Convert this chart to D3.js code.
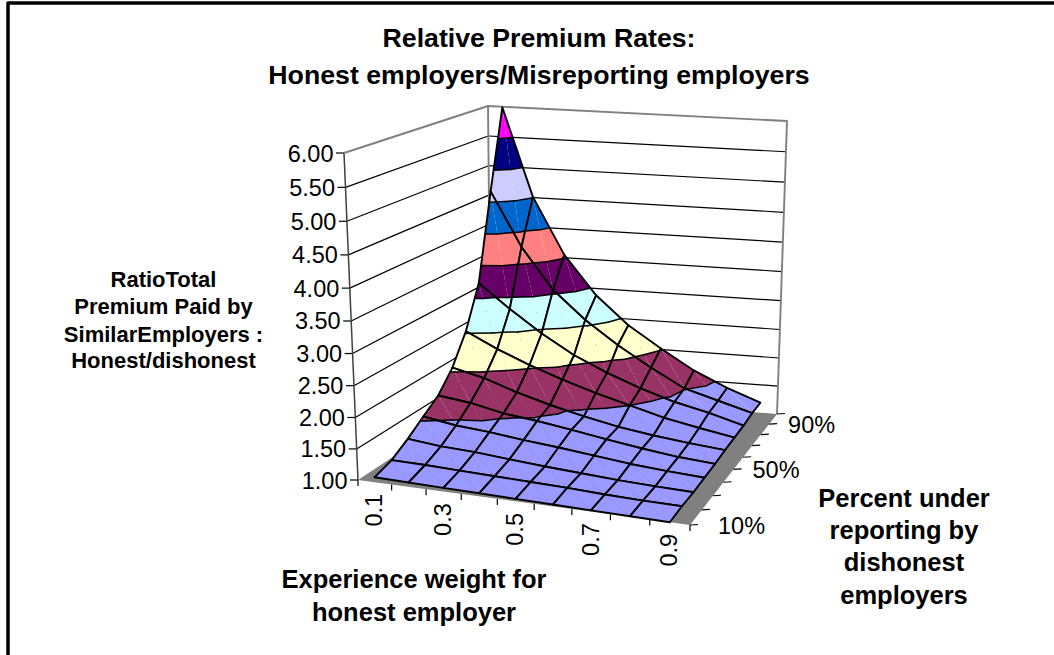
<!DOCTYPE html>
<html><head><meta charset="utf-8"><style>html,body{margin:0;background:#fff}svg{display:block}text{font-family:"Liberation Sans",Arial,sans-serif;fill:#000}.b{font-weight:700}</style></head>
<body><svg id="c" width="1054" height="655"></svg>
<script src="https://cdn.jsdelivr.net/npm/d3@7"></script>
<script>
// ---- data ----
const weights=["0.1","0.2","0.3","0.4","0.5","0.6","0.7","0.8","0.9"];
const percents=["10%","20%","30%","40%","50%","60%","70%","80%","90%","100%"];
const valueTicks=[1,1.5,2,2.5,3,3.5,4,4.5,5,5.5,6];
const weightLabels=["0.1","0.3","0.5","0.7","0.9"];
const percentLabels=["10%","50%","90%"];
const bandColors=["#9999FF","#993366","#FFFFCC","#CCFFFF","#660066","#FF8080","#0066CC","#CCCCFF","#000080","#FF00FF"];
const z10 =[1.08,1.07,1.06,1.05,1.04,1.03,1.02,1.01,1.00];
const z20 =[1.17,1.16,1.14,1.12,1.10,1.08,1.05,1.03,1.02];
const z30 =[1.34,1.28,1.25,1.20,1.15,1.11,1.07,1.04,1.02];
const z40 =[1.54,1.45,1.40,1.33,1.27,1.20,1.13,1.08,1.04];
const z50 =[1.73,1.66,1.54,1.47,1.38,1.28,1.19,1.11,1.06];
const z60 =[2.05,1.92,1.73,1.57,1.43,1.31,1.22,1.15,1.09];
const z70 =[2.53,2.27,2.04,1.84,1.66,1.50,1.34,1.22,1.11];
const z80 =[3.22,2.82,2.44,2.11,1.85,1.63,1.44,1.30,1.13];
const z90 =[4.67,3.76,3.06,2.58,2.18,1.83,1.51,1.34,1.17];
const z100=[5.99,4.51,3.55,2.88,2.39,2.02,1.67,1.40,1.18];
const rows=[z10,z20,z30,z40,z50,z60,z70,z80,z90,z100];

// ---- scales ----
const uS=d3.scaleBand().domain(weights).range([0,1]);
const vS=d3.scalePoint().domain(percents).range([0,1]);
const wS=d3.scaleLinear().domain([1,6]).range([0,1]);

// ---- camera: floor and top planes calibrated from the box corners ----
function solve(A,b){const n=b.length;A=A.map((r,i)=>[...r,b[i]]);for(let c=0;c<n;c++){let p=c;for(let r=c+1;r<n;r++)if(Math.abs(A[r][c])>Math.abs(A[p][c]))p=r;[A[c],A[p]]=[A[p],A[c]];for(let r=0;r<n;r++){if(r==c)continue;const f=A[r][c]/A[c][c];for(let k=c;k<=n;k++)A[r][k]-=f*A[c][k];}}return A.map((r,i)=>r[n]/r[i]);}
function homog(pts){const M=[],B=[];pts.forEach(([u,v,x,y])=>{M.push([u,v,1,0,0,0,-u*x,-v*x]);B.push(x);M.push([0,0,0,u,v,1,-u*y,-v*y]);B.push(y);});const h=solve(M,B);return (u,v)=>{const d=h[6]*u+h[7]*v+1;return[(h[0]*u+h[1]*v+h[2])/d,(h[3]*u+h[4]*v+h[5])/d];};}
const H0=homog([[0,0,358,480],[1,0,690,525],[1,1,777,414],[0,1,491,392]]);
const H1=homog([[0,0,344,153],[1,0,696,190],[1,1,787,121],[0,1,488,106]]);
const warpU=u=>u+0.08*u*(1-u);
const warpW=w=>w-0.055*w*(1-w);
function proj(u,v,w){const a=H0(warpU(u),v),b=H1(warpU(u),v),g=warpW(w);return[a[0]+(b[0]-a[0])*g,a[1]+(b[1]-a[1])*g];}
const pz=(u,v,z)=>proj(u,v,wS(z));

const svg=d3.select("#c");
const line=d3.line();
const seg=(g,pts,col,w,extra)=>g.append("path").attr("d",line(pts)).attr("fill","none").attr("stroke",col).attr("stroke-width",w).attr("stroke-linecap",extra||"butt").attr("stroke-linejoin","round");

// outer frame
seg(svg,[[8,655],[8,3],[1054,3]],"#000",3.5,"square");

// ---- walls and floor ----
const walls=svg.append("g");
walls.append("path").attr("d",line([proj(0,0,0),proj(1,0,0),proj(1,1,0),proj(0,1,0)])+"Z").attr("fill","#808080");
valueTicks.forEach(t=>{const w=wS(t);
  if(t>1&&t<6){seg(walls,[proj(0,0,w),proj(0,1,w)],"#000",1.2);seg(walls,[proj(0,1,w),proj(1,1,w)],"#000",1.2);}
  const p=proj(0,0,w);seg(walls,[[p[0]-8,p[1]],p],"#000",1.2);
  walls.append("text").attr("x",p[0]-10.5).attr("y",p[1]+8.5).attr("text-anchor","end").attr("font-size",23.5).text(d3.format(".2f")(t));
});
seg(walls,[proj(0,0,0),proj(0,0,1)],"#404040",1.5);
seg(walls,[proj(0,0,1),proj(0,1,1),proj(1,1,1),proj(1,1,0)],"#808080",1.9);
seg(walls,[proj(0,1,1),proj(0,1,0)],"#808080",1.9);

// x axis ticks (band edges) and labels
const bw=uS.bandwidth();
d3.range(weights.length+1).forEach(k=>{const p=proj(k*bw,0,0);seg(walls,[p,[p[0],p[1]+6]],"#000",1.2);});
weightLabels.forEach(l=>{const p=proj(uS(l)+bw/2,0,0);
  walls.append("text").attr("transform",`translate(${p[0]+7.5},${p[1]+28}) rotate(-90)`).attr("text-anchor","middle").attr("font-size",23.5).text(l);});
// series axis ticks and labels
percents.forEach((l,k)=>{const p=proj(1,vS(l),0);seg(walls,[p,[p[0]+8,p[1]-0.5]],"#000",1.2);
  if(percentLabels.includes(l))walls.append("text").attr("x",p[0]+(k==0?28:19)).attr("y",p[1]+9).attr("font-size",23.5).text(l);});

// ---- surface, back cell first ----
const surf=svg.append("g");
const thresholds=valueTicks;
function clip(poly,t,keepAbove){const out=[];for(let i=0;i<poly.length;i++){const a=poly[i],b=poly[(i+1)%poly.length];const ia=keepAbove?a[2]>=t:a[2]<=t,ib=keepAbove?b[2]>=t:b[2]<=t;if(ia)out.push(a);if(ia!=ib){const f=(t-a[2])/(b[2]-a[2]);out.push([a[0]+f*(b[0]-a[0]),a[1]+f*(b[1]-a[1]),t]);}}return out;}
function drawTri(g,tri){
  bandColors.forEach((col,k)=>{let p=clip(tri,thresholds[k],true);if(p.length)p=clip(p,thresholds[k+1],false);
    if(p.length>2)g.append("path").attr("d",line(p.map(q=>pz(q[0],q[1],q[2])))+"Z").attr("fill",col);});
}
function drawBound(g,tri){
  thresholds.slice(1,-1).forEach(t=>{const pts=[];for(let i=0;i<3;i++){const a=tri[i],b=tri[(i+1)%3];if((a[2]<t)!=(b[2]<t)){const f=(t-a[2])/(b[2]-a[2]);pts.push([a[0]+f*(b[0]-a[0]),a[1]+f*(b[1]-a[1]),t]);}}
    if(pts.length==2)seg(g,pts.map(q=>pz(q[0],q[1],q[2])),"#000",1.5,"round");});
}
for(let j=percents.length-2;j>=0;j--)for(let i=0;i<weights.length-1;i++){
  const V=(a,b)=>[uS(weights[a])+bw/2,vS(percents[b]),rows[b][a]];
  const q00=V(i,j),q10=V(i+1,j),q11=V(i+1,j+1),q01=V(i,j+1);
  const g=surf.append("g");
  const t1=[q00,q10,q01],t2=[q10,q11,q01];
  drawTri(g,t1);drawTri(g,t2);drawBound(g,t1);drawBound(g,t2);
  seg(g,[q00,q10,q11,q01,q00].map(q=>pz(q[0],q[1],q[2])),"#000",1.9,"round");
}

// ---- titles ----
const txt=(s,x,y,fs)=>svg.append("text").attr("class","b").attr("x",x).attr("y",y).attr("text-anchor","middle").attr("font-size",fs).text(s);
txt("Relative Premium Rates:",539,47,26.7);
txt("Honest employers/Misreporting employers",539,84,26.7);
[["RatioTotal",287],["Premium Paid by",314],["SimilarEmployers :",342],["Honest/dishonest",368]].forEach(([s,y])=>txt(s,163.5,y,22));
[["Experience weight for",588],["honest employer",621]].forEach(([s,y])=>txt(s,414,y,25.5));
[["Percent under",507],["reporting by",539],["dishonest",571],["employers",604]].forEach(([s,y])=>txt(s,904,y,25.5));
</script></body></html>
